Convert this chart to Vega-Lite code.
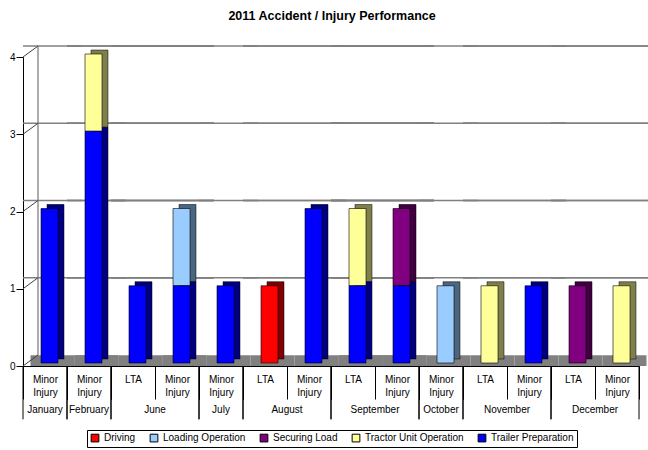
{
  "$schema": "https://vega.github.io/schema/vega-lite/v6.json",
  "padding": {"left": 9, "top": 9, "right": 5, "bottom": 2},
  "title": {"text": "2011 Accident / Injury Performance", "fontSize": 12.5, "fontWeight": "bold", "font": "Liberation Sans", "offset": 23, "color": "black", "anchor": "middle"},
  "data": {"values": [
    {"month": "January", "sub": "Minor Injury", "series": "Trailer Preparation", "value": 2},
    {"month": "February", "sub": "Minor Injury", "series": "Tractor Unit Operation", "value": 1},
    {"month": "February", "sub": "Minor Injury", "series": "Trailer Preparation", "value": 3},
    {"month": "June", "sub": "LTA", "series": "Trailer Preparation", "value": 1},
    {"month": "June", "sub": "Minor Injury", "series": "Loading Operation", "value": 1},
    {"month": "June", "sub": "Minor Injury", "series": "Trailer Preparation", "value": 1},
    {"month": "July", "sub": "Minor Injury", "series": "Trailer Preparation", "value": 1},
    {"month": "August", "sub": "LTA", "series": "Driving", "value": 1},
    {"month": "August", "sub": "Minor Injury", "series": "Trailer Preparation", "value": 2},
    {"month": "September", "sub": "LTA", "series": "Tractor Unit Operation", "value": 1},
    {"month": "September", "sub": "LTA", "series": "Trailer Preparation", "value": 1},
    {"month": "September", "sub": "Minor Injury", "series": "Securing Load", "value": 1},
    {"month": "September", "sub": "Minor Injury", "series": "Trailer Preparation", "value": 1},
    {"month": "October", "sub": "Minor Injury", "series": "Loading Operation", "value": 1},
    {"month": "November", "sub": "LTA", "series": "Tractor Unit Operation", "value": 1},
    {"month": "November", "sub": "Minor Injury", "series": "Trailer Preparation", "value": 1},
    {"month": "December", "sub": "LTA", "series": "Securing Load", "value": 1},
    {"month": "December", "sub": "Minor Injury", "series": "Tractor Unit Operation", "value": 1}
  ]},
  "facet": {
    "column": {
      "field": "month", "type": "nominal",
      "sort": ["January", "February", "June", "July", "August", "September", "October", "November", "December"],
      "title": null,
      "header": {"labelOrient": "bottom", "labelPadding": 39, "labelFontSize": 10, "labelFont": "Liberation Sans", "labelColor": "black"}
    }
  },
  "spacing": 0,
  "bounds": "flush",
  "resolve": {"scale": {"x": "independent"}},
  "spec": {
    "width": {"step": 44},
    "height": 309,
    "layer": [
      {
        "mark": {"type": "rect", "color": "#808080", "xOffset": 7.5, "x2Offset": 7.5},
        "encoding": {
          "x": {"field": "sub", "type": "nominal", "title": null},
          "y": {"datum": 0},
          "y2": {"datum": 0.14}
        }
      },
      {"mark": {"type": "rule", "color": "#808080", "strokeWidth": 1.3, "xOffset": 15, "yOffset": -11}, "encoding": {"y": {"datum": 1}}},
      {"mark": {"type": "rule", "color": "#808080", "strokeWidth": 1.3, "xOffset": 15, "yOffset": -11}, "encoding": {"y": {"datum": 2}}},
      {"mark": {"type": "rule", "color": "#808080", "strokeWidth": 1.3, "xOffset": 15, "yOffset": -11}, "encoding": {"y": {"datum": 3}}},
      {"mark": {"type": "rule", "color": "#808080", "strokeWidth": 1.3, "xOffset": 15, "yOffset": -11}, "encoding": {"y": {"datum": 4}}},
      {
        "transform": [{"filter": "datum.month == 'January'"}],
        "mark": {"type": "rule", "color": "#808080", "strokeWidth": 1.3, "xOffset": 15, "yOffset": -11, "y2Offset": -11},
        "encoding": {
          "x": {"field": "sub", "type": "nominal", "bandPosition": 0, "title": null},
          "y": {"datum": 0},
          "y2": {"datum": 4}
        }
      },
      {
        "transform": [{"filter": "datum.month == 'January'"}],
        "mark": {"type": "rule", "color": "#404040", "strokeWidth": 1, "x2Offset": 15, "y2Offset": -11},
        "encoding": {
          "x": {"field": "sub", "type": "nominal", "bandPosition": 0, "title": null},
          "x2": {"field": "sub", "bandPosition": 0},
          "y": {"datum": 0},
          "y2": {"datum": 0}
        }
      },
      {
        "transform": [{"filter": "datum.month == 'January'"}],
        "mark": {"type": "rule", "color": "#404040", "strokeWidth": 1, "x2Offset": 15, "y2Offset": -11},
        "encoding": {
          "x": {"field": "sub", "type": "nominal", "bandPosition": 0, "title": null},
          "x2": {"field": "sub", "bandPosition": 0},
          "y": {"datum": 1},
          "y2": {"datum": 1}
        }
      },
      {
        "transform": [{"filter": "datum.month == 'January'"}],
        "mark": {"type": "rule", "color": "#404040", "strokeWidth": 1, "x2Offset": 15, "y2Offset": -11},
        "encoding": {
          "x": {"field": "sub", "type": "nominal", "bandPosition": 0, "title": null},
          "x2": {"field": "sub", "bandPosition": 0},
          "y": {"datum": 2},
          "y2": {"datum": 2}
        }
      },
      {
        "transform": [{"filter": "datum.month == 'January'"}],
        "mark": {"type": "rule", "color": "#404040", "strokeWidth": 1, "x2Offset": 15, "y2Offset": -11},
        "encoding": {
          "x": {"field": "sub", "type": "nominal", "bandPosition": 0, "title": null},
          "x2": {"field": "sub", "bandPosition": 0},
          "y": {"datum": 3},
          "y2": {"datum": 3}
        }
      },
      {
        "transform": [{"filter": "datum.month == 'January'"}],
        "mark": {"type": "rule", "color": "#404040", "strokeWidth": 1, "x2Offset": 15, "y2Offset": -11},
        "encoding": {
          "x": {"field": "sub", "type": "nominal", "bandPosition": 0, "title": null},
          "x2": {"field": "sub", "bandPosition": 0},
          "y": {"datum": 4},
          "y2": {"datum": 4}
        }
      },
      {
        "transform": [
          {"aggregate": [{"op": "count", "as": "n"}], "groupby": ["month", "sub"]},
          {"window": [{"op": "row_number", "as": "rk"}], "groupby": ["month"], "sort": [{"field": "sub"}]},
          {"filter": "datum.rk == 1"}
        ],
        "mark": {"type": "rule", "color": "black", "strokeWidth": 1},
        "encoding": {
          "x": {"field": "sub", "type": "nominal", "bandPosition": 0, "title": null},
          "y": {"datum": 0},
          "y2": {"datum": -0.69}
        }
      },
      {
        "transform": [
          {"aggregate": [{"op": "count", "as": "n"}], "groupby": ["month", "sub"]},
          {"window": [{"op": "row_number", "as": "rk"}, {"op": "count", "as": "cnt"}], "groupby": ["month"], "sort": [{"field": "sub"}], "frame": [null, null]},
          {"filter": "datum.rk == datum.cnt"}
        ],
        "mark": {"type": "rule", "color": "black", "strokeWidth": 1},
        "encoding": {
          "x": {"field": "sub", "type": "nominal", "bandPosition": 1, "title": null},
          "y": {"datum": 0},
          "y2": {"datum": -0.69}
        }
      },
      {
        "mark": {"type": "bar", "width": 17, "xOffset": 10.5, "x2Offset": 10.5, "yOffset": -7, "y2Offset": -7, "stroke": "black", "strokeWidth": 0.5},
        "encoding": {
          "x": {"field": "sub", "type": "nominal", "title": null},
          "y": {"field": "value", "type": "quantitative", "stack": "zero"},
          "color": {"field": "series", "type": "nominal"}
        }
      },
      {
        "mark": {"type": "bar", "width": 17, "xOffset": 10.5, "x2Offset": 10.5, "yOffset": -7, "y2Offset": -7, "color": "black", "opacity": 0.5},
        "encoding": {
          "x": {"field": "sub", "type": "nominal", "title": null},
          "y": {"field": "value", "type": "quantitative", "stack": "zero"},
          "detail": {"field": "series", "type": "nominal"}
        }
      },
      {
        "mark": {"type": "bar", "width": 17, "xOffset": 4.5, "x2Offset": 4.5, "yOffset": -3, "y2Offset": -3, "stroke": "black", "strokeWidth": 0.6},
        "encoding": {
          "x": {"field": "sub", "type": "nominal", "title": null,
            "axis": {"bandPosition": 0.5, "tickBand": "extent", "tickSize": 33, "labelPadding": -25, "labelAngle": 0, "labelAlign": "center", "labelBaseline": "top", "labelLineHeight": 13, "labelExpr": "split(datum.label, ' ')", "domainColor": "black", "tickColor": "black"}},
          "y": {"field": "value", "type": "quantitative", "stack": "zero", "title": null,
            "scale": {"domain": [0, 4], "nice": false},
            "axis": {"values": [0, 1, 2, 3, 4], "format": "d", "grid": false, "tickSize": 7, "domainColor": "black", "tickColor": "black", "labelPadding": 1}},
          "color": {"field": "series", "type": "nominal",
            "scale": {"domain": ["Driving", "Loading Operation", "Securing Load", "Tractor Unit Operation", "Trailer Preparation"],
                      "range": ["#FF0000", "#99CCFF", "#800080", "#FFFF99", "#0000FF"]},
            "legend": {"title": null, "orient": "bottom", "direction": "horizontal", "strokeColor": "black", "padding": 3, "offset": 10,
              "symbolType": "square", "symbolStrokeColor": "black", "symbolStrokeWidth": 1, "symbolSize": 60, "columnPadding": 12,
              "labelFontSize": 10, "labelFont": "Liberation Sans", "labelColor": "black"}}
        }
      }
    ]
  },
  "config": {
    "font": "Liberation Sans",
    "view": {"stroke": null},
    "axis": {"labelFont": "Liberation Sans", "labelFontSize": 10, "labelColor": "black"},
    "legend": {"layout": {"bottom": {"anchor": "middle"}}}
  }
}
